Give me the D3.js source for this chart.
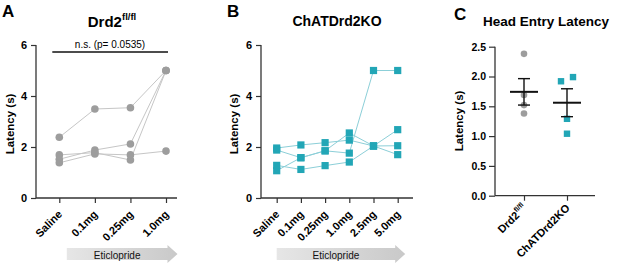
<!DOCTYPE html>
<html>
<head>
<meta charset="utf-8">
<script src="https://cdn.jsdelivr.net/npm/d3@7"></script>
<style>
  body { margin: 0; background: #fff; }
  svg { display: block; font-family: "Liberation Sans", Arial, sans-serif; }
</style>
</head>
<body>
<div id="chart"></div>
<script>
// panel A / B doses
const dosesA = ["Saline", "0.1mg", "0.25mg", "1.0mg"];
const dosesB = ["Saline", "0.1mg", "0.25mg", "1.0mg", "2.5mg", "5.0mg"];

// latency (s) per animal, one row per animal
const latencyA = [
    [2.38, 3.49, 3.54, 5.00],
    [1.69, 1.78, 1.49, 5.00],
    [1.52, 1.88, 2.12, 5.00],
    [1.38, 1.73, 1.69, 1.84]
];
const latencyB = [
    [1.96, 2.08, 2.17, 2.27, 2.04, 2.05],
    [1.88, 1.58, 1.85, 2.55, 2.04, 1.70],
    [1.07, 1.58, 1.85, 1.76, 5.00, 5.00],
    [1.28, 1.12, 1.27, 1.41, 2.04, 2.68]
];

// panel C
const groupsC = ["Drd2", "ChATDrd2KO"];
const groupSupC = ["fl/fl", ""];
const headEntryDrd2 = [2.38, 1.69, 1.52, 1.38];
const headEntryKO = [1.92, 1.99, 1.29, 1.04];

const yTicksAB = [0, 2, 4, 6];
const yTicksC = [0, 0.5, 1.0, 1.5, 2.0, 2.5];
const statText = "n.s. (p= 0.0535)";

const width = 617, height = 267;
const grey = "#9d9d9d", greyLine = "#c6c6c6";
const teal = "#22a6b6", tealLine = "#8ccfd8";
const axisColor = "#333";

const svg = d3.select("#chart").append("svg")
    .attr("width", width)
    .attr("height", height);

const defs = svg.append("defs");
const grad = defs.append("linearGradient").attr("id", "arrowGrad");
grad.append("stop").attr("offset", "0%").attr("stop-color", "#e6e6e6");
grad.append("stop").attr("offset", "100%").attr("stop-color", "#c9c9c9");

function panelLetter(x, y, t) {
    svg.append("text")
        .attr("x", x).attr("y", y)
        .attr("font-size", 17).attr("font-weight", "bold")
        .text(t);
}

function yLabel(x, y) {
    svg.append("text")
        .attr("transform", `translate(${x},${y}) rotate(-90)`)
        .attr("text-anchor", "middle")
        .attr("font-size", 11.5).attr("font-weight", "bold")
        .text("Latency (s)");
}

function styleAxis(g, fontSize) {
    g.select(".domain").remove();
    g.selectAll(".tick line").attr("stroke", axisColor).attr("stroke-width", 1.2);
    g.selectAll(".tick text")
        .attr("fill", "#000")
        .attr("font-size", fontSize)
        .attr("font-weight", "bold")
        .attr("font-family", "Liberation Sans, Arial, sans-serif");
}

function arrow(x0, x1, yMid, label) {
    const bh = 6, hh = 9, head = 10;
    svg.append("polygon")
        .attr("points", [
            [x0, yMid - bh], [x1 - head, yMid - bh], [x1 - head, yMid - hh], [x1, yMid],
            [x1 - head, yMid + hh], [x1 - head, yMid + bh], [x0, yMid + bh]
        ].map(p => p.join(",")).join(" "))
        .attr("fill", "url(#arrowGrad)");
    svg.append("text")
        .attr("x", (x0 + x1 - head) / 2).attr("y", yMid + 4.5)
        .attr("text-anchor", "middle")
        .attr("font-size", 10)
        .attr("fill", "#111")
        .text(label);
}

// dose-response panel (A and B)
function dosePanel(cfg) {
    const y = d3.scaleLinear().domain([0, 6]).range([198, 45]);
    const x = d3.scalePoint().domain(cfg.doses).range(cfg.tickRange);

    const yAxis = svg.append("g")
        .attr("transform", `translate(${cfg.axisLeft},0)`)
        .call(d3.axisLeft(y).tickValues(yTicksAB).tickFormat(d3.format("d")).tickSize(5).tickPadding(4));
    styleAxis(yAxis, 11);

    const xAxis = svg.append("g")
        .attr("transform", `translate(0,${y(0)})`)
        .call(d3.axisBottom(x).tickSize(5).tickSizeOuter(0));
    styleAxis(xAxis, 11);
    xAxis.selectAll(".tick text")
        .attr("text-anchor", "end")
        .attr("dy", null).attr("y", null)
        .attr("transform", "translate(3,17) rotate(-45)");

    svg.append("line")
        .attr("x1", cfg.axisLeft).attr("x2", cfg.axisRight)
        .attr("y1", y(0)).attr("y2", y(0))
        .attr("stroke", axisColor).attr("stroke-width", 1.3);
    svg.append("line")
        .attr("x1", cfg.axisLeft).attr("x2", cfg.axisLeft)
        .attr("y1", y(0)).attr("y2", y(6))
        .attr("stroke", axisColor).attr("stroke-width", 1.3);

    const line = d3.line().x((d, i) => x(cfg.doses[i])).y(d => y(d));
    svg.append("g").selectAll("path")
        .data(cfg.series)
        .join("path")
        .attr("d", line)
        .attr("fill", "none")
        .attr("stroke", cfg.lineColor)
        .attr("stroke-width", 1);

    const pts = cfg.series.flatMap(row => row.map((v, i) => ({dose: cfg.doses[i], v})));
    if (cfg.shape === "circle") {
        svg.append("g").selectAll("circle")
            .data(pts).join("circle")
            .attr("cx", d => x(d.dose)).attr("cy", d => y(d.v))
            .attr("r", 3.8)
            .attr("fill", cfg.color);
    } else {
        const s = 7.2;
        svg.append("g").selectAll("rect")
            .data(pts).join("rect")
            .attr("x", d => x(d.dose) - s / 2).attr("y", d => y(d.v) - s / 2)
            .attr("width", s).attr("height", s)
            .attr("fill", cfg.color);
    }

    yLabel(cfg.labelX, 124);
    arrow(x(cfg.doses[0]) + cfg.arrowStart, x(cfg.doses[cfg.doses.length - 1]) + cfg.arrowEnd, 254, "Eticlopride");
    return {x, y};
}

// ---- panel A
panelLetter(2, 17, "A");
const titleA = svg.append("text")
    .attr("x", 112).attr("y", 27)
    .attr("text-anchor", "middle")
    .attr("font-size", 15).attr("font-weight", "bold");
titleA.append("tspan").text("Drd2");
titleA.append("tspan").attr("font-size", 9.5).attr("dy", -7).text("fl/fl");

const pa = dosePanel({
    doses: dosesA, series: latencyA, tickRange: [59.3, 166],
    axisLeft: 36, axisRight: 177, color: grey, lineColor: greyLine,
    shape: "circle", labelX: 14, arrowStart: 7.5, arrowEnd: 11.5
});

svg.append("line")
    .attr("x1", pa.x(dosesA[0]) - 7).attr("x2", pa.x(dosesA[3]) + 2)
    .attr("y1", 52).attr("y2", 52)
    .attr("stroke", "#111").attr("stroke-width", 1.3);
svg.append("text")
    .attr("x", 110).attr("y", 47.5)
    .attr("text-anchor", "middle")
    .attr("font-size", 10)
    .text(statText);

// ---- panel B
panelLetter(227, 17, "B");
svg.append("text")
    .attr("x", 337).attr("y", 25.5)
    .attr("text-anchor", "middle")
    .attr("font-size", 14).attr("font-weight", "bold")
    .text("ChATDrd2KO");

dosePanel({
    doses: dosesB, series: latencyB, tickRange: [276.7, 397.7],
    axisLeft: 261, axisRight: 413, color: teal, lineColor: tealLine,
    shape: "square", labelX: 238, arrowStart: 0, arrowEnd: 7.5
});

// ---- panel C
panelLetter(454, 20, "C");
svg.append("text")
    .attr("x", 546).attr("y", 25.5)
    .attr("text-anchor", "middle")
    .attr("font-size", 13.5).attr("font-weight", "bold")
    .text("Head Entry Latency");

const yC = d3.scaleLinear().domain([0, 2.5]).range([195.7, 46.7]);
const xC = d3.scalePoint().domain(groupsC).range([524, 567]);
const cLeft = 495, cRight = 595;

const yAxisC = svg.append("g")
    .attr("transform", `translate(${cLeft},0)`)
    .call(d3.axisLeft(yC).tickValues(yTicksC).tickFormat(d3.format(".1f")).tickSize(6).tickPadding(3));
styleAxis(yAxisC, 10.5);

const xAxisC = svg.append("g")
    .attr("transform", `translate(0,${yC(0)})`)
    .call(d3.axisBottom(xC).tickSize(5).tickSizeOuter(0).tickFormat(""));
styleAxis(xAxisC, 11);
xAxisC.selectAll(".tick").each(function(d, i) {
    const t = d3.select(this).append("text")
        .attr("text-anchor", "end")
        .attr("transform", "translate(3,13) rotate(-45)")
        .attr("font-size", 11).attr("font-weight", "bold")
        .attr("fill", "#000");
    t.append("tspan").text(groupsC[i]);
    if (groupSupC[i]) t.append("tspan").attr("font-size", 7).attr("dy", -5).text(groupSupC[i]);
});

svg.append("line")
    .attr("x1", cLeft).attr("x2", cRight).attr("y1", yC(0)).attr("y2", yC(0))
    .attr("stroke", axisColor).attr("stroke-width", 1.3);
svg.append("line")
    .attr("x1", cLeft).attr("x2", cLeft).attr("y1", yC(0)).attr("y2", yC(2.5))
    .attr("stroke", axisColor).attr("stroke-width", 1.3);

yLabel(463, 121);

const cData = [
    {group: groupsC[0], values: headEntryDrd2, shape: "circle", color: grey, jitter: [0, 0, 0, 0]},
    {group: groupsC[1], values: headEntryKO, shape: "square", color: teal, jitter: [-6, 6, 0, 0]}
];

cData.forEach(g => {
    const cx = xC(g.group);
    const mean = d3.mean(g.values);
    const sem = d3.deviation(g.values) / Math.sqrt(g.values.length);

    if (g.shape === "circle") {
        svg.append("g").selectAll("circle")
            .data(g.values).join("circle")
            .attr("cx", (d, i) => cx + g.jitter[i]).attr("cy", d => yC(d))
            .attr("r", 3.3).attr("fill", g.color);
    } else {
        const s = 6.4;
        svg.append("g").selectAll("rect")
            .data(g.values).join("rect")
            .attr("x", (d, i) => cx + g.jitter[i] - s / 2).attr("y", d => yC(d) - s / 2)
            .attr("width", s).attr("height", s).attr("fill", g.color);
    }

    const eb = svg.append("g").attr("stroke", "#111");
    eb.append("line")
        .attr("x1", cx - 14).attr("x2", cx + 14)
        .attr("y1", yC(mean)).attr("y2", yC(mean))
        .attr("stroke-width", 2);
    eb.append("line")
        .attr("x1", cx).attr("x2", cx)
        .attr("y1", yC(mean - sem)).attr("y2", yC(mean + sem))
        .attr("stroke-width", 1.4);
    [mean - sem, mean + sem].forEach(v => {
        eb.append("line")
            .attr("x1", cx - 6).attr("x2", cx + 6)
            .attr("y1", yC(v)).attr("y2", yC(v))
            .attr("stroke-width", 1.4);
    });
});
</script>
</body>
</html>
